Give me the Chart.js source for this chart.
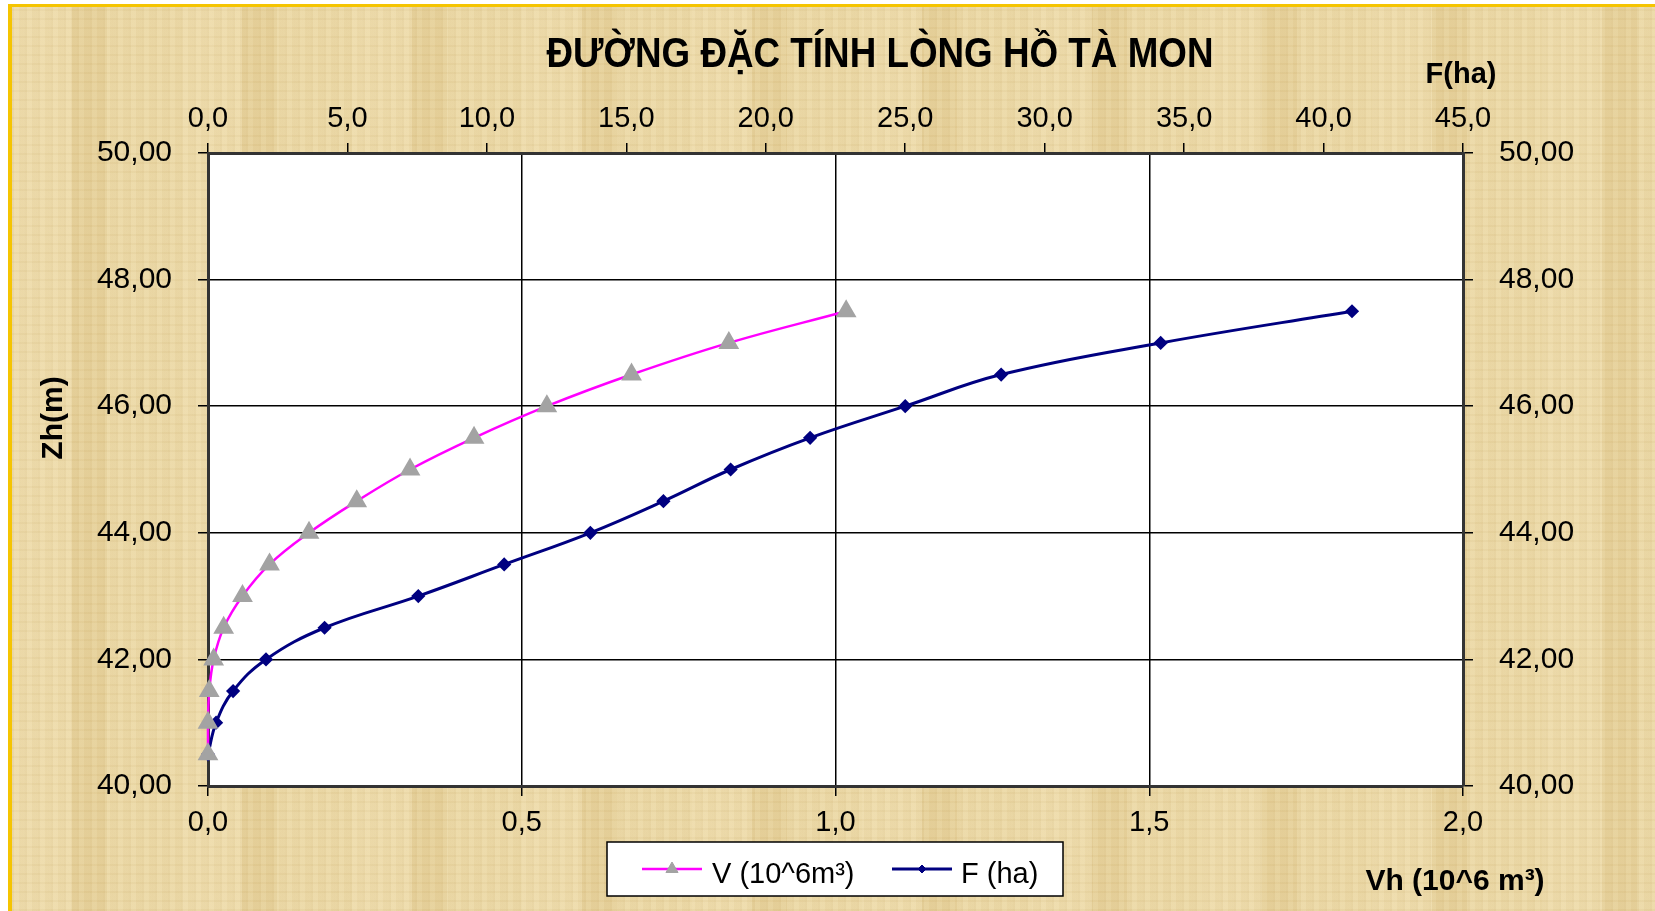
<!DOCTYPE html>
<html>
<head>
<meta charset="utf-8">
<title>Đường đặc tính lòng hồ Tà Mon</title>
<script src="https://cdn.jsdelivr.net/npm/chart.js@4.4.1/dist/chart.umd.min.js"></script>
<style>
  html, body { margin: 0; padding: 0; background: #fff; }
  #wrap { position: relative; width: 1655px; height: 911px; overflow: hidden; }
  #paper {
    position: absolute; left: 8px; top: 4px; right: 0; bottom: 0;
    border-top: 3px solid #f5c400; border-left: 4px solid #f5c400;
    background-color: #e9d49e;
    background-image:
      repeating-linear-gradient(90deg, rgba(150,115,50,0.05) 0 2px, rgba(255,250,230,0.06) 2px 7px, rgba(150,115,50,0.03) 7px 13px),
      repeating-linear-gradient(0deg, rgba(150,115,50,0.04) 0 2px, rgba(255,250,230,0.05) 2px 9px),
      repeating-linear-gradient(90deg, rgba(255,245,215,0.18) 0 60px, rgba(200,165,90,0.10) 60px 95px, rgba(255,245,215,0.10) 95px 170px);
  }
  canvas { position: absolute; left: 0; top: 0; }
</style>
</head>
<body>
<div id="wrap">
  <div id="paper"></div>
  <canvas id="lakeChart" width="1655" height="911"></canvas>
</div>
<script>
document.addEventListener("DOMContentLoaded", function () {
  // ---- data ----
  const zLevels = [40.5, 41.0, 41.5, 42.0, 42.5, 43.0, 43.5, 44.0, 44.5, 45.0, 45.5, 46.0, 46.5, 47.0, 47.5];
  // V (10^6 m3), bottom axis
  const volume = [0, 0, 0.002, 0.009, 0.025, 0.055, 0.098, 0.161, 0.237, 0.322, 0.424, 0.54, 0.675, 0.83, 1.017];
  // F (ha), top axis
  const area = [0, 0.29, 0.9, 2.08, 4.18, 7.54, 10.62, 13.71, 16.33, 18.74, 21.59, 25.0, 28.44, 34.16, 41.02];

  // tick labels
  const zTicks = [40, 42, 44, 46, 48, 50];
  const vTicks = [0, 0.5, 1.0, 1.5, 2.0];
  const fTicks = [0, 5, 10, 15, 20, 25, 30, 35, 40, 45];

  const titleText = "ĐƯỜNG ĐẶC TÍNH LÒNG HỒ TÀ MON";
  const FONT = '"Liberation Sans", Arial, sans-serif';

  const comma = (v, d) => v.toFixed(d).replace(".", ",");
  const setTicks = (arr) => (scale) => { scale.ticks = arr.map((v) => ({ value: v })); };

  // plot area edges (px)
  const plot = { left: 208, right: 1463, top: 153, bottom: 786 };

  const decor = {
    id: "decor",
    beforeDraw(chart) {
      const { ctx, chartArea: a } = chart;
      ctx.save();
      ctx.fillStyle = "#ffffff";
      ctx.fillRect(a.left, a.top, a.right - a.left, a.bottom - a.top);
      ctx.restore();
    },
    afterDraw(chart) {
      const ctx = chart.ctx;
      ctx.save();
      ctx.fillStyle = "#000";

      // main title (slightly condensed bold)
      ctx.font = "bold 43px " + FONT;
      const w = ctx.measureText(titleText).width;
      ctx.save();
      ctx.translate(880, 67);
      ctx.scale(667 / w, 1);
      ctx.textAlign = "center";
      ctx.textBaseline = "alphabetic";
      ctx.fillText(titleText, 0, 0);
      ctx.restore();

      // axis titles
      ctx.font = "bold 29px " + FONT;
      ctx.textAlign = "center";
      ctx.textBaseline = "alphabetic";
      ctx.fillText("F(ha)", 1461, 83);
      ctx.font = "bold 30px " + FONT;
      ctx.fillText("Vh (10^6 m³)", 1455, 890);
      ctx.save();
      ctx.translate(62, 418);
      ctx.rotate(-Math.PI / 2);
      ctx.fillText("Zh(m)", 0, 0);
      ctx.restore();

      // legend box
      ctx.fillStyle = "#fff";
      ctx.fillRect(607, 842, 456, 54);
      ctx.strokeStyle = "#000";
      ctx.lineWidth = 1.5;
      ctx.strokeRect(607, 842, 456, 54);

      const items = chart.data.datasets.map((ds, i) => ({
        ds, x: i === 0 ? 642 : 892, tx: i === 0 ? 712 : 961
      }));
      items.forEach(({ ds, x, tx }) => {
        ctx.strokeStyle = ds.borderColor;
        ctx.lineWidth = ds.borderWidth;
        ctx.beginPath();
        ctx.moveTo(x, 869);
        ctx.lineTo(x + 60, 869);
        ctx.stroke();
        ctx.fillStyle = ds.pointBackgroundColor;
        ctx.strokeStyle = ds.pointBorderColor;
        ctx.lineWidth = 1;
        Chart.helpers.drawPoint(ctx, {
          pointStyle: ds.pointStyle,
          radius: ds.pointStyle === "triangle" ? 7 : 4,
          rotation: 0,
          borderWidth: 1
        }, x + 30, 869);
        ctx.fillStyle = "#000";
        ctx.font = "29px " + FONT;
        ctx.textAlign = "left";
        ctx.fillText(ds.label, tx, 883);
      });
      ctx.restore();
    }
  };

  const tickFont = { family: FONT, size: 29 };
  const yFont = { family: FONT, size: 30 };
  const border = { display: true, color: "#333333", width: 3 };

  new Chart(document.getElementById("lakeChart"), {
    type: "line",
    data: {
      datasets: [
        {
          label: "V (10^6m³)",
          data: zLevels.map((z, i) => ({ x: volume[i], y: z })),
          xAxisID: "x",
          yAxisID: "y",
          borderColor: "#ff00ff",
          borderWidth: 2.5,
          tension: 0.4,
          pointStyle: "triangle",
          pointRadius: 9.5,
          pointBackgroundColor: "#a3a3a3",
          pointBorderColor: "#a3a3a3",
          clip: false
        },
        {
          label: "F (ha)",
          data: zLevels.map((z, i) => ({ x: area[i], y: z })),
          xAxisID: "x2",
          yAxisID: "y",
          borderColor: "#000080",
          borderWidth: 3,
          tension: 0.4,
          pointStyle: "rectRot",
          pointRadius: 5,
          pointBackgroundColor: "#000080",
          pointBorderColor: "#000080",
          clip: false
        }
      ]
    },
    options: {
      responsive: false,
      animation: false,
      events: [],
      layout: { padding: 0 },
      plugins: {
        legend: { display: false },
        title: { display: false },
        tooltip: { enabled: false }
      },
      scales: {
        x: {
          type: "linear",
          position: "bottom",
          min: 0, max: 2,
          afterBuildTicks: setTicks(vTicks),
          afterFit: (s) => { s.height = 911 - plot.bottom; },
          grid: { color: "#000", lineWidth: 1.5, tickLength: 10 },
          border: border,
          ticks: { color: "#000", font: tickFont, padding: 10, maxRotation: 0, callback: (v) => comma(v, 1) }
        },
        x2: {
          type: "linear",
          position: "top",
          min: 0, max: 45,
          afterBuildTicks: setTicks(fTicks),
          afterFit: (s) => { s.height = plot.top; },
          grid: { color: "#000", lineWidth: 1.5, tickLength: 10, drawOnChartArea: false },
          border: border,
          ticks: { color: "#000", font: tickFont, padding: 7, maxRotation: 0, callback: (v) => comma(v, 1) }
        },
        y: {
          type: "linear",
          position: "left",
          min: 40, max: 50,
          afterBuildTicks: setTicks(zTicks),
          afterFit: (s) => { s.width = plot.left; },
          grid: { color: "#000", lineWidth: 1.5, tickLength: 10 },
          border: border,
          ticks: { color: "#000", font: yFont, padding: 26, callback: (v) => comma(v, 2) }
        },
        y2: {
          type: "linear",
          position: "right",
          min: 40, max: 50,
          afterBuildTicks: setTicks(zTicks),
          afterFit: (s) => { s.width = 1655 - plot.right; },
          grid: { color: "#000", lineWidth: 1.5, tickLength: 10, drawOnChartArea: false },
          border: border,
          ticks: { color: "#000", font: yFont, padding: 26, callback: (v) => comma(v, 2) }
        }
      }
    },
    plugins: [decor]
  });
});
</script>
</body>
</html>
